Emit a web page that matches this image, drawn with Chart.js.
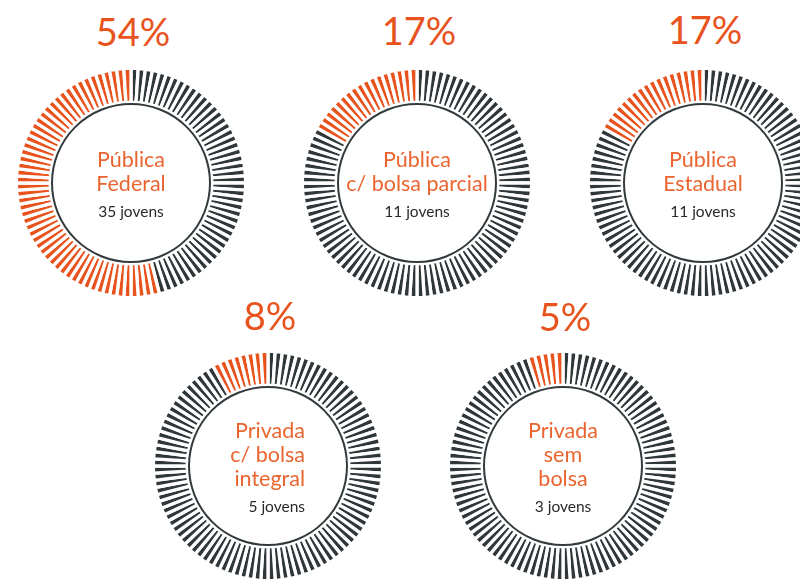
<!DOCTYPE html>
<html lang="pt-BR">
<head>
<meta charset="utf-8">
<title>Tipo de universidade</title>
<script src="https://cdn.jsdelivr.net/npm/chart.js@4.4.1/dist/chart.umd.min.js"></script>
<style>
    html, body {
        margin: 0;
        padding: 0;
        width: 800px;
        height: 579px;
        overflow: hidden;
        background: #ffffff;
        font-family: 'Lato', 'Open Sans', sans-serif;
    }
    .gauge {
        position: absolute;
        width: 240px;
        height: 240px;
    }
    .percentual {
        position: absolute;
        width: 120px;
        margin-left: -60px;
        text-align: center;
        font-size: 38px;
        font-weight: 400;
        line-height: 40px;
        color: #e8531d;
    }
    .rotulo {
        position: absolute;
        width: 160px;
        transform: translate(-50%, -50%);
        text-align: center;
    }
    .rotulo .nome {
        font-size: 21.5px;
        font-weight: 400;
        line-height: 24px;
        color: #ea6430;
    }
    .rotulo .jovens {
        font-size: 15.5px;
        font-weight: 400;
        line-height: 24px;
        margin-top: 4px;
        color: #2a2a2a;
    }
</style>
</head>
<body>
<div id="painel"></div>

<script>
// Categorias (linhas do rótulo central), percentuais e número de jovens
const categorias = [
    ['Pública', 'Federal'],
    ['Pública', 'c/ bolsa parcial'],
    ['Pública', 'Estadual'],
    ['Privada', 'c/ bolsa', 'integral'],
    ['Privada', 'sem', 'bolsa']
];
const percentuais = [54, 17, 17, 8, 5];
const jovens = [35, 11, 11, 5, 3];
const TOTAL_MARCAS = 100;

// Centro de cada medidor na página
const posicoes = [
    { x: 131, y: 183, topoPct: 11, alinhar: 'center', dx: 0 },
    { x: 417, y: 183, topoPct: 10, alinhar: 'center', dx: 0 },
    { x: 703, y: 183, topoPct: 9, alinhar: 'center', dx: 0 },
    { x: 268, y: 466, topoPct: 295, alinhar: 'right', dx: -43 },
    { x: 563, y: 466, topoPct: 296, alinhar: 'center', dx: 0 }
];

const LARANJA = '#e8531d';
const CINZA = '#30373a';

// Desenha o círculo interno do medidor
const circuloInterno = {
    id: 'circuloInterno',
    afterDatasetsDraw(chart) {
        const arco = chart.getDatasetMeta(0).data[0];
        if (!arco) return;
        const ctx = chart.ctx;
        ctx.save();
        ctx.beginPath();
        ctx.arc(arco.x, arco.y, 79, 0, Math.PI * 2);
        ctx.lineWidth = 2;
        ctx.strokeStyle = '#333a3d';
        ctx.stroke();
        ctx.restore();
    }
};

document.addEventListener('DOMContentLoaded', () => {
    const painel = document.getElementById('painel');

    percentuais.forEach((pct, i) => {
        const pos = posicoes[i];

        // Percentual acima do medidor
        const titulo = document.createElement('div');
        titulo.className = 'percentual';
        titulo.style.left = (pos.x + 2) + 'px';
        titulo.style.top = pos.topoPct + 'px';
        titulo.textContent = pct + '%';
        painel.appendChild(titulo);

        // Canvas do medidor
        const caixa = document.createElement('div');
        caixa.className = 'gauge';
        caixa.style.left = (pos.x - 120) + 'px';
        caixa.style.top = (pos.y - 120) + 'px';
        const canvas = document.createElement('canvas');
        canvas.width = 240;
        canvas.height = 240;
        caixa.appendChild(canvas);
        painel.appendChild(caixa);

        renderMedidor(canvas, pct);

        // Rótulo central
        const rotulo = document.createElement('div');
        rotulo.className = 'rotulo';
        rotulo.style.left = (pos.x + pos.dx) + 'px';
        rotulo.style.top = (pos.y + 2) + 'px';
        rotulo.style.textAlign = pos.alinhar;
        categorias[i].forEach(linha => {
            const el = document.createElement('div');
            el.className = 'nome';
            el.textContent = linha;
            rotulo.appendChild(el);
        });
        const qtd = document.createElement('div');
        qtd.className = 'jovens';
        qtd.textContent = `${jovens[i]} jovens`;
        rotulo.appendChild(qtd);
        painel.appendChild(rotulo);
    });
});

function renderMedidor(canvas, pct) {
    // 100 marcas iguais; as últimas "pct" (antes do topo) ficam em laranja
    const valores = new Array(TOTAL_MARCAS).fill(1);
    const cores = valores.map((v, idx) => idx >= TOTAL_MARCAS - pct ? LARANJA : CINZA);

    new Chart(canvas.getContext('2d'), {
        type: 'doughnut',
        data: {
            labels: valores.map((v, idx) => String(idx + 1)),
            datasets: [{
                data: valores,
                backgroundColor: cores,
                borderColor: '#ffffff',
                borderWidth: 3.3,
                borderJoinStyle: 'miter',
                hoverOffset: 0
            }]
        },
        options: {
            responsive: false,
            animation: false,
            devicePixelRatio: 1,
            radius: 114.6,
            cutout: 83.4,
            rotation: 0,
            layout: { padding: 0 },
            plugins: {
                legend: { display: false },
                tooltip: { enabled: false }
            }
        },
        plugins: [circuloInterno]
    });
}
</script>
</body>
</html>
